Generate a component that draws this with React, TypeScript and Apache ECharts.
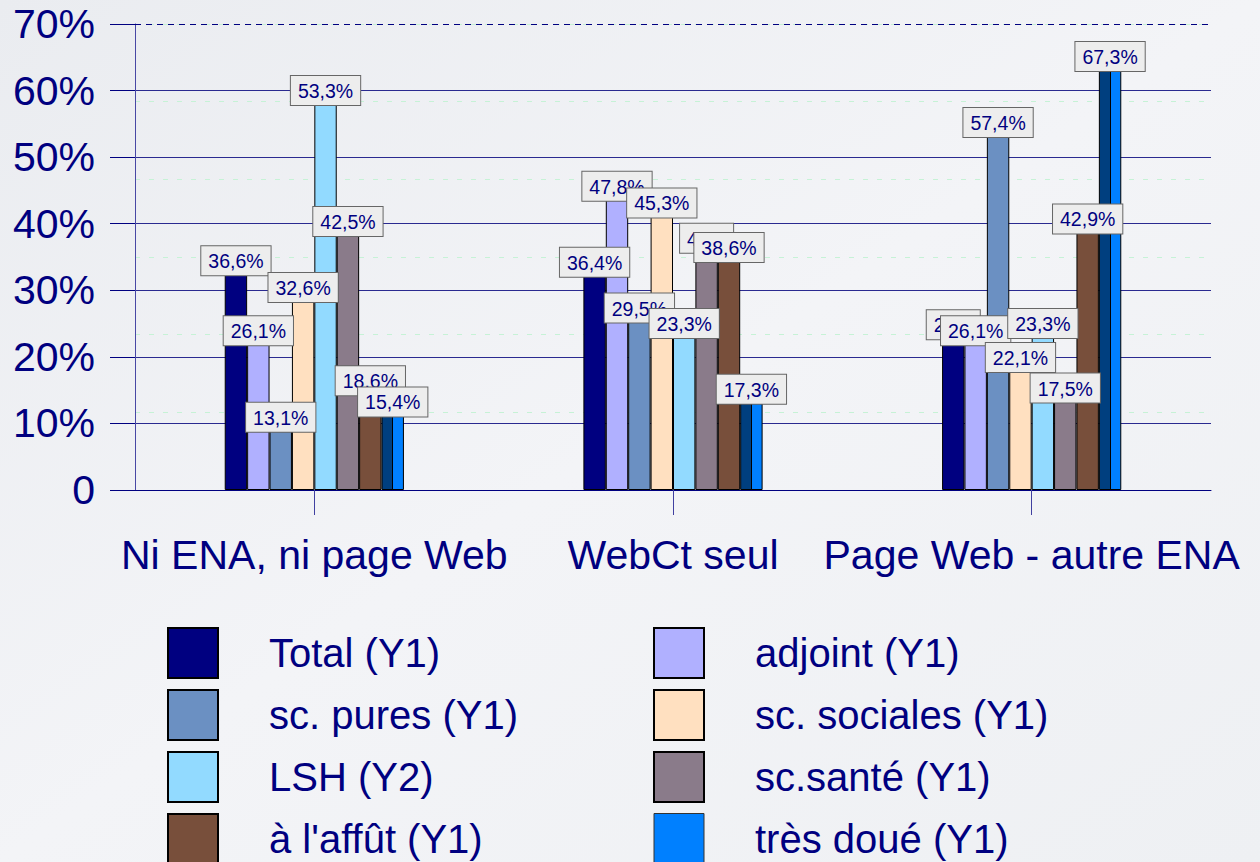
import React, { useEffect, useRef } from 'react';
import * as echarts from 'echarts';

const categories = ['Ni ENA, ni page Web', 'WebCt seul', 'Page Web - autre ENA'];
const seriesNames = ['Total (Y1)', 'adjoint (Y1)', 'sc. pures (Y1)', 'sc. sociales (Y1)', 'LSH (Y2)', 'sc.santé (Y1)', "à l'affût (Y1)", 'très doué (Y1)'];
const total = [36.6, 36.4, 27];
const adjoint = [26.1, 47.8, 26.1];
const scPures = [13.1, 29.5, 57.4];
const scSociales = [32.6, 45.3, 22.1];
const lsh = [53.3, 23.3, 23.3];
const scSante = [42.5, 40, 17.5];
const aLaffut = [18.6, 38.6, 42.9];
const tresDoue = [15.4, 17.3, 67.3];
const y1Max = 70;
const y2Max = 60;
const tickStep = 10;

const seriesValues = [total, adjoint, scPures, scSociales, lsh, scSante, aLaffut, tresDoue];
const seriesAxis = [0, 0, 0, 0, 1, 0, 0, 0];
const colors = ['#000080', '#B0B0FF', '#6B90C2', '#FFE0C0', '#92DAFF', '#8A7B8A', '#784F3B', '#0080FF'];

const FONT = '"Liberation Sans", Arial, sans-serif';
const NAVY = '#000080';

export default function App() {
  const ref = useRef<HTMLDivElement>(null);
  useEffect(() => {
    if (!ref.current) return;
    const chart = echarts.init(ref.current, undefined, { renderer: 'svg' });
    const fmt = (v: number) => String(v).replace('.', ',') + '%';
    const series: any[] = seriesNames.map((name, i) => {
      let color: any = colors[i];
      if (i === 7) {
        color = new echarts.graphic.LinearGradient(0, 0, 1, 0, [
          { offset: 0, color: '#003F7F' },
          { offset: 0.48, color: '#003F7F' },
          { offset: 0.48, color: '#000000' },
          { offset: 0.53, color: '#000000' },
          { offset: 0.53, color: '#0080FF' },
          { offset: 1, color: '#0080FF' },
        ]);
      }
      const s: any = {
        name,
        type: 'bar',
        yAxisIndex: seriesAxis[i],
        data: seriesValues[i],
        barWidth: 22.4,
        barGap: '0%',
        itemStyle: { color, borderColor: '#000000', borderWidth: 1 },
        label: {
          show: true,
          position: 'insideTop',
          distance: 0,
          formatter: (p: any) => fmt(p.value),
          color: NAVY,
          fontFamily: FONT,
          fontSize: 19.5,
          backgroundColor: '#EDEDED',
          borderColor: '#666666',
          borderWidth: 1,
          padding: [5, 7, 4, 7],
        },
      };
      if (i === 0) {
        s.markLine = {
          silent: true,
          symbol: 'none',
          label: { show: false },
          lineStyle: { color: NAVY, type: [6, 5], width: 1 },
          data: [{ yAxis: y1Max }],
        };
      }
      return s;
    });
    const legendText = {
      color: NAVY,
      fontFamily: FONT,
      fontSize: 40,
      padding: [0, 0, 0, 46],
    };
    const leftNames = [seriesNames[0], seriesNames[2], seriesNames[4], seriesNames[6]];
    const rightNames = [seriesNames[1], seriesNames[3], seriesNames[5], seriesNames[7]];
    const legendBase = {
      orient: 'vertical',
      top: 627,
      height: 300,
      padding: 0,
      itemWidth: 50,
      itemHeight: 50,
      itemGap: 10,
      icon: 'rect',
      selectedMode: false,
      textStyle: legendText,
    };
    const option: any = {
      animation: false,
      backgroundColor: new echarts.graphic.LinearGradient(0, 0, 1, 1, [
        { offset: 0, color: '#eaecf0' },
        { offset: 0.5, color: '#f3f4f7' },
        { offset: 1, color: '#eef0f3' },
      ]),
      textStyle: { fontFamily: FONT },
      grid: { left: 135, right: 49, top: 24, bottom: 372, containLabel: false },
      xAxis: {
        type: 'category',
        data: categories,
        axisLine: { lineStyle: { color: NAVY, width: 1 } },
        axisTick: { show: true, alignWithLabel: true, length: 25, lineStyle: { color: '#4040a0' } },
        axisLabel: { interval: 0, color: NAVY, fontSize: 41, fontFamily: FONT, margin: 44 },
      },
      yAxis: [
        {
          type: 'value',
          min: 0,
          max: y1Max,
          interval: tickStep,
          axisLine: { show: true, lineStyle: { color: '#4848a4', width: 1 } },
          axisTick: { show: true, length: 25, lineStyle: { color: NAVY } },
          axisLabel: {
            color: NAVY,
            fontSize: 41,
            fontFamily: FONT,
            margin: 40,
            formatter: (v: number) => (v === 0 ? '0' : v + '%'),
          },
          splitLine: { show: true, showMaxLine: false, lineStyle: { color: '#2a2a90', width: 1 } },
        },
        {
          type: 'value',
          min: 0,
          max: y2Max,
          interval: tickStep,
          position: 'right',
          axisLine: { show: false },
          axisTick: { show: false },
          axisLabel: { show: false },
          splitLine: { show: true, lineStyle: { color: '#c6f2d6', type: [5, 9], width: 1 } },
        },
      ],
      legend: [
        { ...legendBase, left: 167, data: leftNames },
        {
          ...legendBase,
          left: 653,
          data: rightNames.map((n, k) =>
            k === 3 ? { name: n, itemStyle: { color: '#0080FF', borderColor: '#333333', borderWidth: 1 } } : n
          ),
        },
      ],
      series,
    };
    chart.setOption(option);
    return () => chart.dispose();
  }, []);
  return (
    <div
      ref={ref}
      style={{ position: 'fixed', left: 0, top: 0, width: 1260, height: 862 }}
    />
  );
}
